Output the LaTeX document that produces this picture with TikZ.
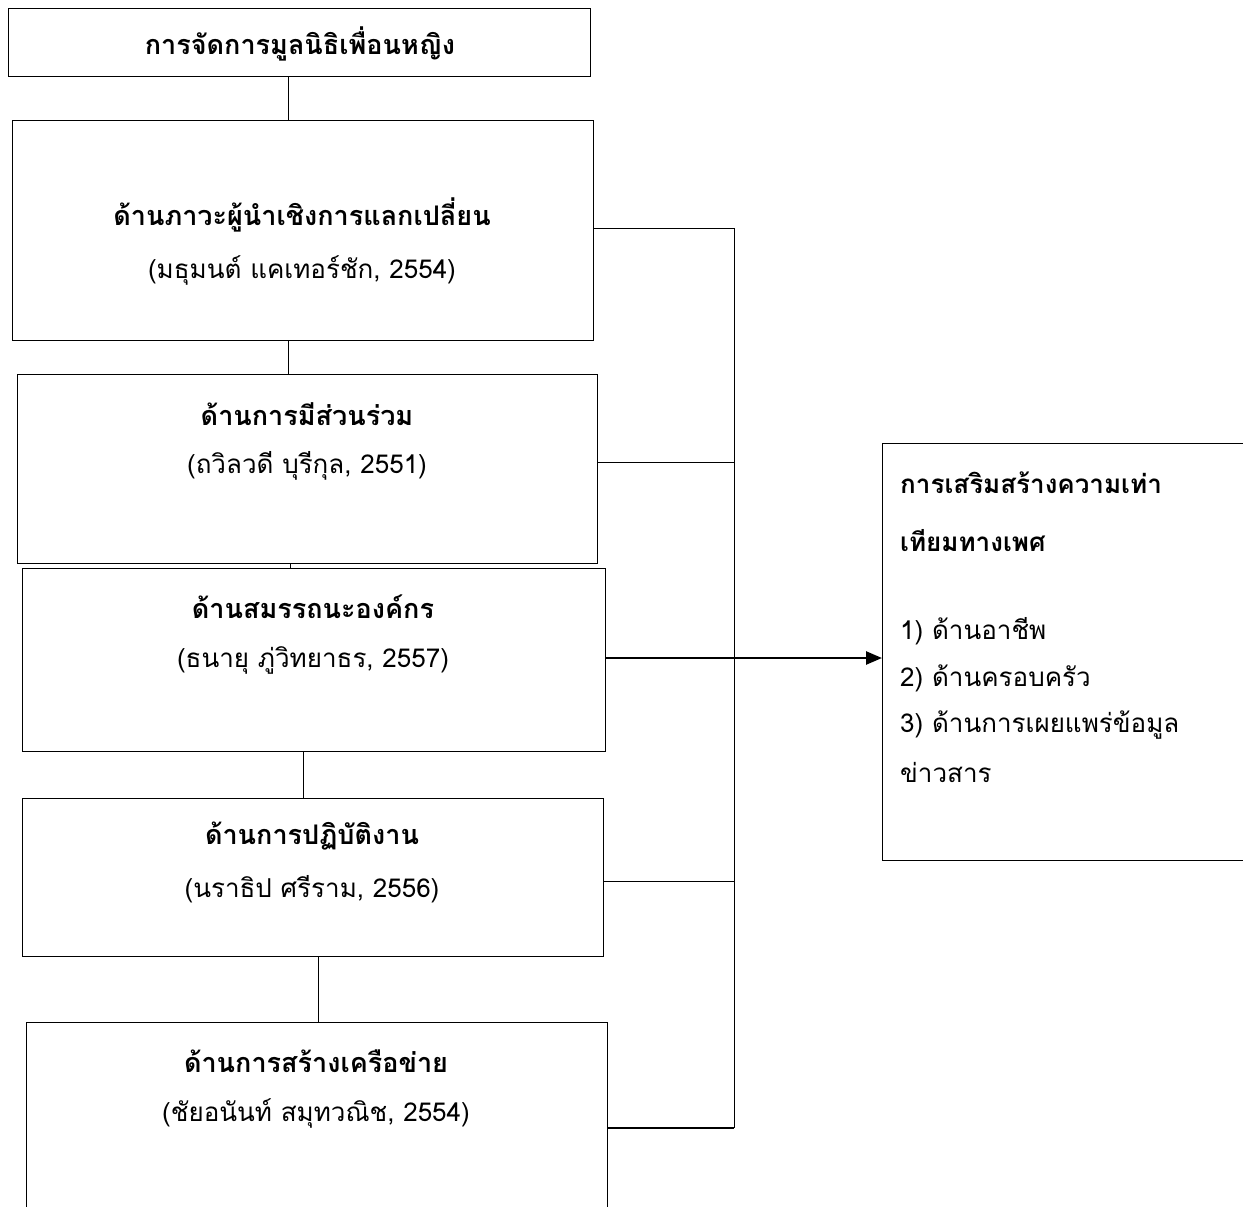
\documentclass[tikz,border=0pt]{standalone}
\usepackage{fontspec}
\newfontfamily\thaifont[Script=Thai]{Loma}
\usetikzlibrary{arrows.meta}
\tikzset{
  box/.style={draw=black, line width=1pt, anchor=north west, inner sep=0pt},
  ttl/.style={font=\thaifont\bfseries\fontsize{27}{30}\selectfont, inner sep=0pt},
  cite/.style={font=\thaifont\fontsize{26}{30}\selectfont, inner sep=0pt},
  rtxt/.style={font=\thaifont\fontsize{26}{30}\selectfont, inner sep=0pt, anchor=west},
  rttl/.style={font=\thaifont\bfseries\fontsize{26}{30}\selectfont, inner sep=0pt, anchor=west},
  conn/.style={draw=black, line width=1pt},
  thick conn/.style={draw=black, line width=2pt},
  arr/.style={draw=black, line width=2.5pt, -{Triangle[length=16pt,width=13pt]}}
}
\begin{document}
\begin{tikzpicture}[x=1pt,y=-1pt]
\useasboundingbox (0,0) rectangle (1243,1207);
\clip (0,0) rectangle (1243,1207);
% boxes
\node[box, minimum width=582pt, minimum height=68pt] (b1) at (8,8) {};
\node[box, minimum width=581pt, minimum height=220pt] (b2) at (12,120) {};
\node[box, minimum width=580pt, minimum height=189pt] (b3) at (17,374) {};
\node[box, minimum width=583pt, minimum height=183pt] (b4) at (22,568) {};
\node[box, minimum width=581pt, minimum height=158pt] (b5) at (22,798) {};
\node[box, minimum width=581pt, minimum height=200pt] (b6) at (26,1022) {};
\node[box, minimum width=380pt, minimum height=417pt] (r) at (882,443) {};
% texts
\node[ttl] (t1) at (300,44) {การจัดการมูลนิธิเพื่อนหญิง};
\node[ttl] (t2) at (302,215) {ด้านภาวะผู้นำเชิงการแลกเปลี่ยน};
\node[cite] (c2) at (302,270) {(มธุมนต์ แคเทอร์ชัก, 2554)};
\node[ttl] (t3) at (307,414) {ด้านการมีส่วนร่วม};
\node[cite] (c3) at (307,466) {(ถวิลวดี บุรีกุล, 2551)};
\node[ttl] (t4) at (313,607) {ด้านสมรรถนะองค์กร};
\node[cite] (c4) at (313,660) {(ธนายุ ภู่วิทยาธร, 2557)};
\node[ttl] (t5) at (312,836) {ด้านการปฏิบัติงาน};
\node[cite] (c5) at (312,889) {(นราธิป ศรีราม, 2556)};
\node[ttl] (t6) at (316,1061) {ด้านการสร้างเครือข่าย};
\node[cite] (c6) at (316,1113) {(ชัยอนันท์ สมุทวณิช, 2554)};
\node[rttl] (r1) at (900,483) {การเสริมสร้างความเท่า};
\node[rttl] (r2) at (900,541) {เทียมทางเพศ};
\node[rtxt] (r3) at (900,631) {1) ด้านอาชีพ};
\node[rtxt] (r4) at (900,678) {2) ด้านครอบครัว};
\node[rtxt] (r5) at (900,725) {3) ด้านการเผยแพร่ข้อมูล};
\node[rtxt] (r6) at (900,772) {ข่าวสาร};
% connector x positions
\coordinate (v1) at (288,0);
\coordinate (v2) at (288,0);
\coordinate (v3) at (290,0);
\coordinate (v4) at (303,0);
\coordinate (v5) at (318,0);
\coordinate (bustop) at (734,228);
\coordinate (busbot) at (734,1128);
\coordinate (h3) at (0,462);
\coordinate (h5) at (0,881);
\coordinate (ha) at (0,658);
\draw[conn] (b1.south -| v1) -- (b2.north -| v1);
\draw[conn] (b2.south -| v2) -- (b3.north -| v2);
\draw[conn] (b3.south -| v3) -- (b4.north -| v3);
\draw[conn] (b4.south -| v4) -- (b5.north -| v4);
\draw[conn] (b5.south -| v5) -- (b6.north -| v5);
% bus
\draw[conn] (b2.east |- bustop) -- (bustop) -- (busbot);
\draw[conn] (b3.east |- h3) -- (bustop |- h3);
\draw[conn] (b5.east |- h5) -- (bustop |- h5);
\draw[thick conn] (b6.east |- busbot) -- (busbot);
\draw[arr] (b4.east |- ha) -- (r.west |- ha);
\end{tikzpicture}
\end{document}
